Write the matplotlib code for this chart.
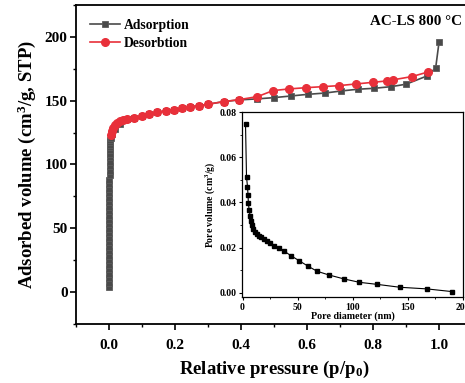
import numpy as np
import matplotlib
matplotlib.use("Agg")
import matplotlib.pyplot as plt
from matplotlib.ticker import MultipleLocator, FormatStrFormatter

plt.rcParams['font.family'] = ['Liberation Serif', 'DejaVu Serif']
plt.rcParams['font.weight'] = 'bold'
plt.rcParams['mathtext.fontset'] = 'custom'
plt.rcParams['mathtext.rm'] = 'Liberation Serif:bold'
plt.rcParams['mathtext.it'] = 'Liberation Serif:bold'
plt.rcParams['mathtext.bf'] = 'Liberation Serif:bold'

# adsorption branch (relative pressure, adsorbed volume)
ads_p = [0.00005, 0.0001, 0.00015, 0.0002, 0.00025, 0.0003, 0.00035, 0.0004, 0.00045, 0.0005,
         0.00055, 0.0006, 0.00065, 0.0007, 0.00075, 0.0008, 0.00085, 0.0009, 0.00095, 0.001,
         0.0011, 0.0012, 0.0013, 0.0014, 0.0015, 0.0016, 0.0017, 0.0018, 0.0019, 0.002,
         0.0022, 0.0024, 0.0027, 0.003, 0.0035, 0.004, 0.005,
         0.01, 0.018, 0.033, 0.054, 0.076, 0.099, 0.122, 0.146, 0.172, 0.197,
         0.221, 0.245, 0.272, 0.3, 0.348, 0.394, 0.448, 0.5, 0.552, 0.603,
         0.655, 0.703, 0.755, 0.803, 0.855, 0.9, 0.964, 0.99, 1.0]
ads_v = [4, 7.5, 11, 14.5, 18, 21.5, 25, 28.5, 32, 35.5,
         39, 42.5, 46, 49.5, 53, 56.5, 60, 63.5, 67, 70.5,
         74, 77.5, 81, 84.5, 88, 91.5, 95, 98.5, 102, 105.5,
         108.5, 111, 113.5, 115.5, 117.5, 119.5, 121,
         124, 127.5, 132, 136, 136.5, 138.3, 139.9, 141, 142, 143,
         144.1, 145.1, 146.1, 147.2, 149.3, 150.6, 151.4, 152.4, 153.7, 155,
         156, 157.6, 159, 159.7, 161, 162.9, 169.4, 175.7, 195.6]

# desorption branch
des_p = [0.005, 0.008, 0.012, 0.018, 0.025, 0.033, 0.043, 0.054, 0.076, 0.099,
         0.122, 0.146, 0.172, 0.197, 0.221, 0.245, 0.272, 0.3, 0.348, 0.394,
         0.45, 0.497, 0.545, 0.597, 0.648, 0.697, 0.748, 0.8, 0.842, 0.86,
         0.918, 0.967]
des_v = [123, 126, 128.5, 130.8, 132.5, 133.9, 135, 136, 136.5, 138.3,
         139.9, 141, 142, 143, 144.1, 145.1, 146.1, 147.2, 149.3, 150.8,
         153.2, 157.9, 159.2, 160.2, 161, 161.8, 163.1, 164.4, 165.5, 166.3,
         168.9, 172.5]

# pore size distribution (inset)
pore_d = [2.7, 3.6, 4.5, 5.0, 5.3, 6.0, 6.9, 7.4, 8.3, 9.5, 11, 12.8, 14.6, 17,
          19.9, 22.3, 25, 28.8, 32.8, 37.2, 43.8, 51.2, 59.2, 67.6, 78, 92,
          106, 122, 143, 167, 190]
pore_v = [0.0747, 0.0514, 0.047, 0.0432, 0.0396, 0.0367, 0.034, 0.0318, 0.0299,
          0.0282, 0.027, 0.0261, 0.0253, 0.0246, 0.0237, 0.0231, 0.022, 0.0209,
          0.02, 0.0187, 0.0165, 0.0143, 0.0119, 0.0096, 0.008, 0.0062, 0.0047,
          0.0038, 0.0025, 0.0018, 0.0006]

fig = plt.figure(figsize=(4.65, 3.83), dpi=100)
ax = fig.add_axes([0.1634, 0.154, 0.8516, 0.833])

ax.plot(ads_p, ads_v, color='#4a4a4a', marker='s', ms=5, mec='#5c5c5c', mew=0.6,
        lw=1.2, label='Adsorption', zorder=2)
ax.plot(des_p, des_v, color='#e8303a', marker='o', ms=5.5, lw=1.2, label='Desorbtion', zorder=3)

ax.set_xlim(-0.1, 1.1)
ax.set_ylim(-25, 225)
ax.set_xticks([0.0, 0.2, 0.4, 0.6, 0.8, 1.0])
ax.xaxis.set_minor_locator(MultipleLocator(0.1))
ax.yaxis.set_major_locator(MultipleLocator(50))
ax.yaxis.set_minor_locator(MultipleLocator(25))
ax.tick_params(which='major', direction='out', length=4, width=1.2, labelsize=11)
ax.tick_params(axis='x', which='major', pad=7)
ax.tick_params(axis='y', which='major', pad=2)
ax.tick_params(which='minor', direction='out', length=2.5, width=1.0)
for s in ax.spines.values():
    s.set_linewidth(1.3)
ax.set_xlabel(r'Relative pressure (p/p$_{0}$)', fontsize=13.5, fontweight='bold', labelpad=5)
ax.set_ylabel(r'Adsorbed volume (cm$^{3}$/g, STP)', fontsize=13.5, fontweight='bold', labelpad=5)

ax.legend(loc='upper left', frameon=False, handlelength=2.2,
          handletextpad=0.3, labelspacing=0.4, borderaxespad=0.6,
          prop={'weight': 'bold', 'size': 9.8})
fig.text(0.993, 0.945, 'AC-LS 800 °C', fontsize=10.8, fontweight='bold', ha='right', va='center')

# inset
ins = fig.add_axes([0.5204, 0.2245, 0.4753, 0.483])
ins.plot(pore_d, pore_v, color='black', marker='s', ms=2.5, lw=0.8)
ins.set_xlim(-0.5, 200)
ins.set_ylim(-0.0018, 0.08)
ins.xaxis.set_major_locator(MultipleLocator(50))
ins.xaxis.set_minor_locator(MultipleLocator(25))
ins.yaxis.set_major_locator(MultipleLocator(0.02))
ins.yaxis.set_minor_locator(MultipleLocator(0.01))
ins.yaxis.set_major_formatter(FormatStrFormatter('%.2f'))
ins.tick_params(which='major', direction='out', length=2.5, width=0.8, labelsize=7, pad=1.5)
ins.tick_params(which='minor', direction='out', length=1.5, width=0.6)
for s in ins.spines.values():
    s.set_linewidth(0.9)
ins.set_xlabel('Pore diameter (nm)', fontsize=7.2, fontweight='bold', labelpad=0)
ins.set_ylabel(r'Pore volume (cm$^{3}$/g)', fontsize=7, fontweight='bold', labelpad=2)

fig.savefig('out.png', dpi=100)
